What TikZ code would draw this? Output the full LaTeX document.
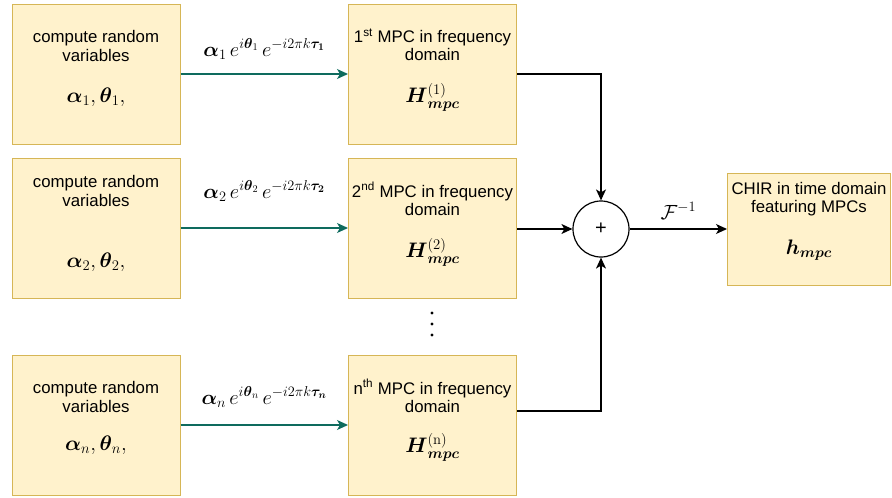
\RequirePackage{fix-cm}
\documentclass[tikz,border=0pt]{standalone}
\usepackage[no-math]{fontspec}
\setmainfont{Liberation Sans}
\usepackage{amsmath}
\usetikzlibrary{arrows.meta,positioning}
\definecolor{boxfill}{HTML}{FFF2CC}
\definecolor{boxline}{HTML}{D6B656}
\definecolor{pathcol}{HTML}{0E6B5E}

\begin{document}
\begin{tikzpicture}[
  x=1pt, y=-1pt,
  block/.style={draw=boxline, fill=boxfill, line width=1pt, rectangle, minimum width=168pt, minimum height=140pt, inner sep=0pt},
  outblock/.style={block, minimum width=163pt, minimum height=112pt},
  txt/.style={align=center, inner sep=0pt, font=\fontsize{16.8}{18.3}\selectfont},
  mth/.style={inner sep=0pt, font=\fontsize{21}{22}\selectfont},
  lbl/.style={inner sep=0pt, font=\fontsize{20.5}{22}\selectfont},
  sumnode/.style={draw, circle, fill=white, line width=1.2pt, minimum size=56pt, inner sep=0pt, font=\fontsize{20}{20}\selectfont},
  pathline/.style={draw=pathcol, line width=1.3pt},
  feed/.style={draw, line width=1.3pt},
  >={Stealth[length=11pt,width=10pt,inset=3pt]}
]
\useasboundingbox (0,0) rectangle (892,498);

% Random variable blocks
\node[block] (rv1) at (96,74) {};
\node[block] (rv2) at (96,228) {};
\node[block] (rv3) at (96,425) {};
\node[txt] (rv1txt) at (96,46) {compute random\\variables};
\node[txt] (rv2txt) at (96,191) {compute random\\variables};
\node[txt] (rv3txt) at (96,397) {compute random\\variables};
\node[mth] (rv1math) at (96,97) {$\boldsymbol{\alpha}_1, \boldsymbol{\theta}_1,$};
\node[mth] (rv2math) at (96,262) {$\boldsymbol{\alpha}_2, \boldsymbol{\theta}_2,$};
\node[mth] (rv3math) at (96,445) {$\boldsymbol{\alpha}_n, \boldsymbol{\theta}_n,$};

% MPC blocks
\node[block] (mpc1) at (432.5,74) {};
\node[block] (mpc2) at (432.5,228) {};
\node[block] (mpc3) at (432.5,425) {};
\node[txt] (mpc1txt) at (432.5,45) {1\textsuperscript{st} MPC in frequency\\domain};
\node[txt] (mpc2txt) at (432.5,199) {2\textsuperscript{nd} MPC in frequency\\domain};
\node[txt] (mpc3txt) at (432.5,396) {n\textsuperscript{th} MPC in frequency\\domain};
\node[mth] (mpc1math) at (432.5,97) {$\boldsymbol{H}^{(1)}_{\boldsymbol{mpc}}$};
\node[mth] (mpc2math) at (432.5,252) {$\boldsymbol{H}^{(2)}_{\boldsymbol{mpc}}$};
\node[mth] (mpc3math) at (432.5,447) {$\boldsymbol{H}^{(\mathrm{n})}_{\boldsymbol{mpc}}$};

% dots between rows
\foreach \yy in {313,324,335}
  \fill (432,\yy) circle (1.7pt);

% Sum and output
\node[sumnode] (sum) at (601,229) {+};
\node[outblock] (chir) at (809,229) {};
\node[txt] (chirtxt) at (809,199) {CHIR in time domain\\featuring MPCs};
\node[mth] (chirmath) at (809,250) {$\boldsymbol{h}_{\boldsymbol{mpc}}$};

% Connections
\draw[pathline,->] (rv1) -- node[lbl, yshift=25pt] {$\boldsymbol{\alpha}_1\, e^{i\boldsymbol{\theta}_1}\, e^{-i2\pi k\boldsymbol{\tau_1}}$} (mpc1);
\draw[pathline,->] (rv2) -- node[lbl, yshift=37pt] {$\boldsymbol{\alpha}_2\, e^{i\boldsymbol{\theta}_2}\, e^{-i2\pi k\boldsymbol{\tau_2}}$} (mpc2);
\draw[pathline,->] (rv3) -- node[lbl, yshift=28pt] {$\boldsymbol{\alpha}_n\, e^{i\boldsymbol{\theta}_n}\, e^{-i2\pi k\boldsymbol{\tau_n}}$} (mpc3);

\draw[feed,->] (mpc1.east) -| (sum.north);
\draw[feed,->] (mpc2.east |- sum) -- (sum.west);
\draw[feed,->] ([yshift=14pt]mpc3.east) -| (sum.south);
\draw[feed,->] (sum.east) -- node[lbl, yshift=18pt] {$\mathcal{F}^{-1}$} (chir.west);

\end{tikzpicture}
\end{document}
